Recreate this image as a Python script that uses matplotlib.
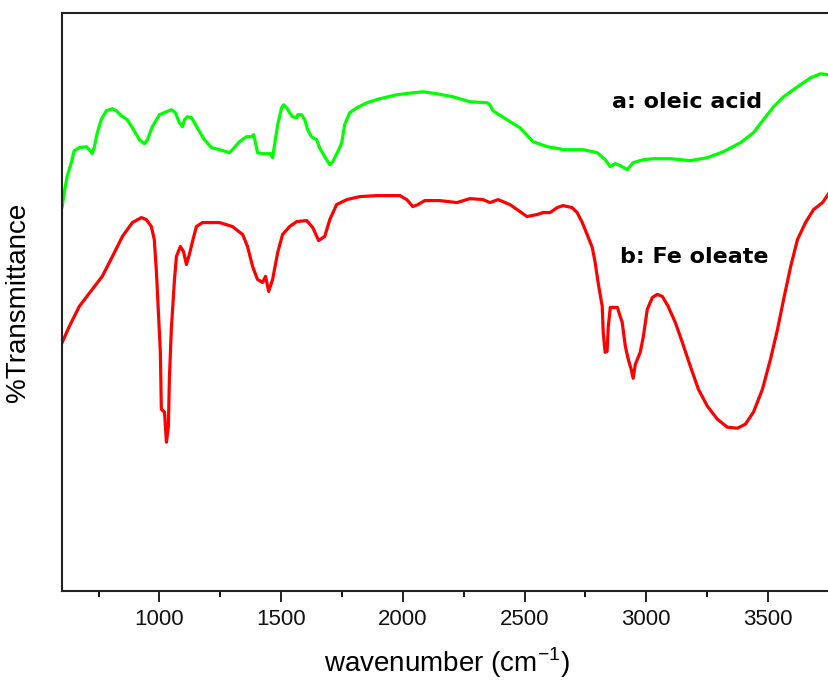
import numpy as np
import matplotlib
matplotlib.use('Agg')
import matplotlib.pyplot as plt

# FTIR spectra (transmittance in arbitrary units)
oleic_wn = [601, 609, 621, 638, 650, 671, 700, 712, 724, 733, 745, 761, 782, 807, 823,
            844, 868, 889, 918, 938, 951, 971, 1000, 1029, 1049, 1066, 1082, 1095, 1103,
            1115, 1132, 1144, 1165, 1185, 1214, 1247, 1288, 1300, 1329, 1358, 1379, 1387,
            1395, 1403, 1424, 1457, 1465, 1473, 1486, 1502, 1510, 1523, 1535, 1547, 1564,
            1568, 1584, 1597, 1609, 1625, 1646, 1658, 1679, 1700, 1712, 1733, 1749, 1761,
            1782, 1811, 1852, 1905, 1975, 2041, 2082, 2140, 2206, 2276, 2346, 2358, 2370,
            2428, 2481, 2535, 2593, 2642, 2658, 2741, 2798, 2831, 2852, 2872, 2893, 2922,
            2946, 2988, 3029, 3099, 3181, 3251, 3317, 3387, 3440, 3481, 3523, 3564, 3621,
            3675, 3716, 3753]
oleic_t = [385, 399, 415, 429, 441, 444, 445, 442, 438, 445, 459, 472, 481, 483, 481,
           476, 472, 464, 452, 448, 452, 465, 477, 480, 482, 479, 469, 465, 472,
           475, 474, 469, 460, 452, 444, 442, 439, 442, 450, 455, 455, 457,
           449, 439, 438, 438, 434, 447, 467, 484, 487, 484, 479, 475, 474,
           477, 477, 472, 462, 455, 452, 444, 435, 427, 430, 440, 449, 467,
           479, 484, 489, 493, 497, 499, 500, 498, 495, 490, 489, 487, 481,
           472, 464, 450, 445, 443, 442, 442, 439, 432, 425, 428, 426, 422,
           429, 432, 433, 433, 431, 434, 440, 449, 459, 472, 485, 495, 505,
           514, 518, 517]

feoleate_wn = [601, 630, 671, 724, 765, 807, 848, 889, 926, 946, 967, 979, 988, 996, 1004,
               1008, 1021, 1029, 1037, 1041, 1049, 1062, 1070, 1086, 1099, 1111, 1123, 1136,
               1152, 1177, 1247, 1300, 1342, 1362, 1383, 1403, 1424, 1436, 1449, 1465, 1486,
               1506, 1535, 1564, 1605, 1630, 1654, 1679, 1700, 1728, 1770, 1823, 1893, 1988,
               2016, 2041, 2062, 2090, 2152, 2222, 2276, 2329, 2358, 2391, 2440, 2481, 2510,
               2551, 2576, 2605, 2634, 2658, 2695, 2716, 2737, 2757, 2778, 2790, 2802, 2819,
               2823, 2831, 2839, 2844, 2852, 2881, 2901, 2914, 2926, 2938, 2946, 2955, 2975,
               2988, 3004, 3025, 3045, 3066, 3090, 3119, 3148, 3181, 3214, 3251, 3292, 3333,
               3374, 3407, 3440, 3477, 3510, 3539, 3564, 3593, 3621, 3654, 3687, 3724, 3749]
feoleate_t = [249, 265, 285, 302, 315, 335, 355, 369, 374, 372, 365, 352, 319, 279, 239,
              182, 179, 149, 165, 212, 262, 312, 335, 345, 340, 327, 337, 350,
              365, 369, 369, 365, 357, 345, 325, 312, 309, 315, 300, 312, 339,
              357, 365, 370, 371, 364, 351, 355, 372, 387, 392, 395, 396, 396,
              392, 385, 387, 391, 391, 389, 393, 392, 389, 392, 387, 380, 375,
              377, 379, 379, 384, 386, 384, 379, 369, 357, 344, 329, 309, 285,
              259, 239, 240, 265, 284, 284, 269, 245, 232, 222, 213, 227, 239,
              255, 282, 294, 297, 295, 285, 269, 249, 225, 202, 185, 172, 164,
              163, 167, 179, 202, 232, 262, 292, 325, 352, 369, 382, 389, 398]

labels = ['a: oleic acid', 'b: Fe oleate']

fig = plt.figure(figsize=(8.29, 6.8), dpi=100)
ax = fig.add_axes([0.0748, 0.131, 0.928, 0.850])

ax.plot(oleic_wn, oleic_t, color='#00ff00', lw=2.3)
ax.plot(feoleate_wn, feoleate_t, color='#ff0000', lw=2.3)

ax.text(2860, 490, labels[0], fontsize=16, fontweight='bold', family='DejaVu Sans',
        va='center', ha='left')
ax.text(2893, 334, labels[1], fontsize=16, fontweight='bold', family='DejaVu Sans',
        va='center', ha='left')

ax.set_xlim(600, 3760)
ax.set_ylim(0, 579)
ax.set_xticks([1000, 1500, 2000, 2500, 3000, 3500])
ax.set_xticks([750, 1250, 1750, 2250, 2750, 3250, 3750], minor=True)
ax.set_yticks([])
ax.tick_params(axis='x', which='major', direction='out', length=8, width=1.3,
               pad=5, labelsize=16, colors='#111111')
ax.tick_params(axis='x', which='minor', direction='out', length=4, width=1.3)
for lab in ax.get_xticklabels():
    lab.set_family('Liberation Sans')
for sp in ax.spines.values():
    sp.set_linewidth(1.5)
    sp.set_color('#222222')

ax.set_xlabel('wavenumber (cm$^{\\mathregular{-1}}$)', fontsize=20,
              family='Liberation Sans', labelpad=11)
ax.set_ylabel('%Transmittance', fontsize=20, family='Liberation Sans', labelpad=22)

plt.savefig('out.png', dpi=100)
